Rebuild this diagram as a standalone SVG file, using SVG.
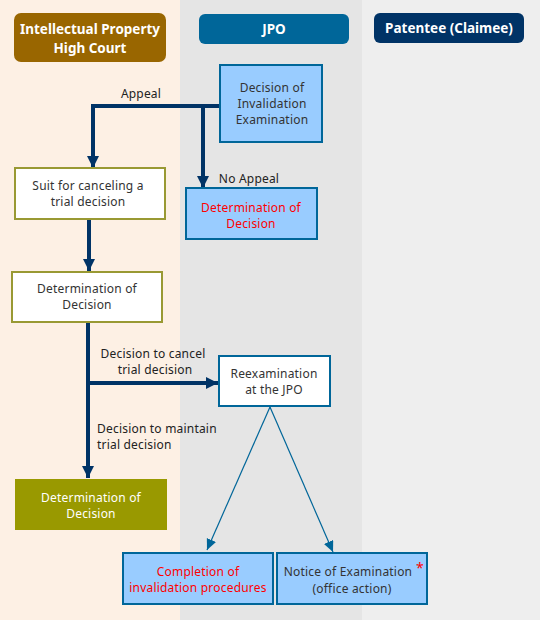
<svg xmlns="http://www.w3.org/2000/svg" width="540" height="620" viewBox="0 0 540 620">
<style>
text{font-family:"Noto Sans","Open Sans","DejaVu Sans",sans-serif;font-size:12px;fill:#333;text-anchor:middle;letter-spacing:0.2px}
.hd{font-weight:bold;font-size:13.5px;fill:#fff;letter-spacing:0}
.lbl{fill:#222}
.red{fill:#ff0000}
.wt{fill:#fff}
.box{fill:#99ccff;stroke:#006699;stroke-width:2}
.wbox{fill:#fff;stroke:#006699;stroke-width:2}
.obox{fill:#fff;stroke:#999933;stroke-width:2}
.thick{fill:none;stroke:#003366;stroke-width:4}
.thin{fill:none;stroke:#006699;stroke-width:1.2}
</style>
<defs>
<marker id="ah" markerUnits="userSpaceOnUse" markerWidth="14" markerHeight="14" refX="12" refY="6" orient="auto"><path d="M0,0 L12,6 L0,12 z" fill="#003366"/></marker>
<marker id="at" markerUnits="userSpaceOnUse" markerWidth="12" markerHeight="12" refX="11" refY="5" orient="auto"><path d="M0,0 L11,5 L0,10 z" fill="#006699"/></marker>
</defs>
<g id="lanes">
<rect x="0" y="0" width="180" height="620" fill="#fdf0e4"/>
<rect x="180" y="0" width="182" height="620" fill="#e5e5e5"/>
<rect x="362" y="0" width="178" height="620" fill="#eeeeee"/>
</g>
<g id="header-court"><rect x="14" y="13" width="152" height="49" rx="7" fill="#996600"/><text class="hd" x="90" y="34">Intellectual Property</text><text class="hd" x="90" y="53">High Court</text></g>
<g id="header-jpo"><rect x="199" y="14" width="150" height="30" rx="6" fill="#006699"/><text class="hd" x="274" y="34">JPO</text></g>
<g id="header-patentee"><rect x="374" y="13" width="150" height="30" rx="6" fill="#003366"/><text class="hd" x="449" y="33">Patentee (Claimee)</text></g>
<g id="connectors">
<path class="thick" d="M220,106 H93 V168" marker-end="url(#ah)"/>
<path class="thick" d="M203,106 V188" marker-end="url(#ah)"/>
<path class="thick" d="M89,219 V271" marker-end="url(#ah)"/>
<path class="thick" d="M88,322 V478" marker-end="url(#ah)"/>
<path class="thick" d="M88,383 H218" marker-end="url(#ah)"/>
<path class="thin" d="M270,407 L207,550" marker-end="url(#at)"/>
<path class="thin" d="M270,407 L333,552" marker-end="url(#at)"/>
<text class="lbl" x="141" y="98">Appeal</text>
<text class="lbl" x="249" y="183">No Appeal</text>
<text class="lbl" x="153" y="358">Decision to cancel</text>
<text class="lbl" x="155" y="374">trial decision</text>
<text class="lbl" x="97" y="433" style="text-anchor:start">Decision to maintain</text>
<text class="lbl" x="97" y="449" style="text-anchor:start">trial decision</text>
</g>
<g id="decision-invalidation"><rect class="box" x="220" y="65" width="102" height="77"/><text x="272" y="92">Decision of</text><text x="272" y="108">Invalidation</text><text x="272" y="124">Examination</text></g>
<g id="suit"><rect class="obox" x="15" y="168" width="150" height="51"/><text x="88" y="190">Suit for canceling a</text><text x="88" y="206">trial decision</text></g>
<g id="determination-jpo"><rect class="box" x="186" y="188" width="131" height="51"/><text class="red" x="251" y="212">Determination of</text><text class="red" x="251" y="228">Decision</text></g>
<g id="determination-court"><rect class="obox" x="12" y="272" width="150" height="50"/><text x="87" y="293">Determination of</text><text x="87" y="309">Decision</text></g>
<g id="reexamination"><rect class="wbox" x="219" y="356" width="111" height="50"/><text x="274" y="378">Reexamination</text><text x="274" y="394">at the JPO</text></g>
<g id="determination-final"><rect x="15" y="479" width="152" height="51" fill="#999900"/><text class="wt" x="91" y="502">Determination of</text><text class="wt" x="91" y="518">Decision</text></g>
<g id="completion"><rect class="box" x="123" y="553" width="150" height="51"/><text class="red" x="198" y="576">Completion of</text><text class="red" x="198" y="592">invalidation procedures</text></g>
<g id="notice"><rect class="box" x="277" y="553" width="150" height="51"/><text x="348" y="576">Notice of Examination</text><text class="red" x="420" y="573" style="font-size:14px">*</text><text x="352" y="593">(office action)</text></g>
</svg>
